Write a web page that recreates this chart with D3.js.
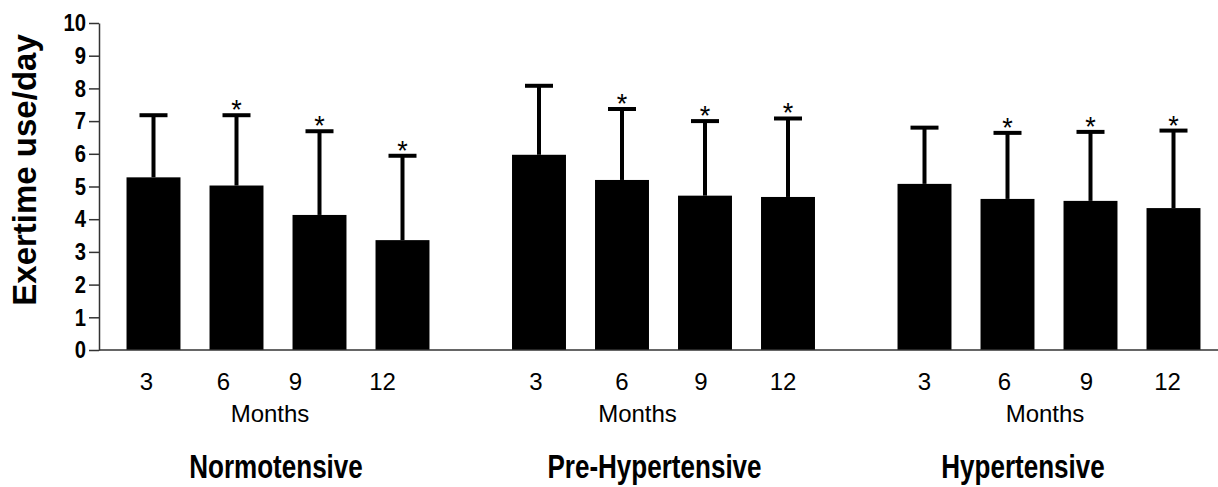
<!DOCTYPE html>
<html>
<head>
<meta charset="utf-8">
<script src="https://cdn.jsdelivr.net/npm/d3@7"></script>
<style>
  body { margin: 0; background: #fff; }
  text { font-family: Arial, "Liberation Sans", sans-serif; }
</style>
</head>
<body>
<svg id="chart"></svg>
<script>
// Data
const groups = ["Normotensive", "Pre-Hypertensive", "Hypertensive"];
const months = ["3", "6", "9", "12"];
const normoMean = [5.28, 5.03, 4.13, 3.36];
const normoSD = [1.90, 2.15, 2.56, 2.58];
const preMean = [5.97, 5.20, 4.72, 4.68];
const preSD = [2.11, 2.17, 2.28, 2.40];
const hyperMean = [5.08, 4.62, 4.56, 4.34];
const hyperSD = [1.72, 2.02, 2.11, 2.37];
const significant = [false, true, true, true];  // * marks vs baseline
const yTicks = [0, 1, 2, 3, 4, 5, 6, 7, 8, 9, 10];

const means = [normoMean, preMean, hyperMean];
const sds = [normoSD, preSD, hyperSD];

// Small label nudges so text sits where the original had it
const tickNudge = [[-7, -13, -24, -20], [-3, 0, -4, -5], [0, -3, -4, -6]];
const monthsNudge = [-8, -26, -4];
const titleNudge = [-2, -9, -26];

const width = 1218;
const height = 487;

const svg = d3.select("#chart")
    .attr("width", width)
    .attr("height", height);

// Scales
const y = d3.scaleLinear()
    .domain([0, 10])
    .range([350, 23]);

const xGroup = d3.scalePoint()
    .domain(groups)
    .range([278, 1049]);

const xMonth = d3.scaleBand()
    .domain(months)
    .range([-166, 166])
    .paddingInner(0.35)
    .paddingOuter(0.175);

// Flatten into one row per bar
const rows = [];
groups.forEach((g, gi) => {
  months.forEach((m, mi) => {
    rows.push({ group: g, gi: gi, month: m, mi: mi, mean: means[gi][mi], sd: sds[gi][mi], sig: significant[mi] });
  });
});

const cx = d => xGroup(d.group) + xMonth(d.month) + xMonth.bandwidth() / 2;

// Bars
svg.selectAll(".bar")
    .data(rows)
  .enter().append("rect")
    .attr("class", "bar")
    .attr("x", d => xGroup(d.group) + xMonth(d.month))
    .attr("y", d => y(d.mean))
    .attr("width", xMonth.bandwidth())
    .attr("height", d => y(0) - y(d.mean))
    .attr("fill", "#000");

// Error bars (upper only)
svg.selectAll(".err")
    .data(rows)
  .enter().append("line")
    .attr("class", "err")
    .attr("x1", cx)
    .attr("x2", cx)
    .attr("y1", d => y(d.mean))
    .attr("y2", d => y(d.mean + d.sd))
    .attr("stroke", "#000")
    .attr("stroke-width", 4);

svg.selectAll(".cap")
    .data(rows)
  .enter().append("line")
    .attr("class", "cap")
    .attr("x1", d => cx(d) - 14)
    .attr("x2", d => cx(d) + 14)
    .attr("y1", d => y(d.mean + d.sd))
    .attr("y2", d => y(d.mean + d.sd))
    .attr("stroke", "#000")
    .attr("stroke-width", 4);

// Asterisks
svg.selectAll(".star")
    .data(rows.filter(d => d.sig))
  .enter().append("text")
    .attr("class", "star")
    .attr("x", cx)
    .attr("y", d => y(d.mean + d.sd) + 4)
    .attr("text-anchor", "middle")
    .style("font-size", "27px")
    .text("*");

// Y axis
const yAxis = d3.axisLeft(y)
    .tickValues(yTicks)
    .tickSize(10)
    .tickSizeOuter(0)
    .tickPadding(4);

const gy = svg.append("g")
    .attr("transform", "translate(99,0)")
    .call(yAxis);

gy.select(".domain").attr("stroke", "#333").attr("stroke-width", 1.5);
gy.selectAll(".tick line").attr("stroke", "#333").attr("stroke-width", 1.5);
gy.selectAll(".tick text")
    .attr("fill", "#000")
    .attr("transform", "scale(0.92,1.1)")
    .style("font-size", "22px")
    .style("font-weight", "bold")
    .style("font-family", "Arial, 'Liberation Sans', sans-serif");

// X baseline
svg.append("line")
    .attr("x1", 99)
    .attr("x2", width)
    .attr("y1", y(0))
    .attr("y2", y(0))
    .attr("stroke", "#333")
    .attr("stroke-width", 1.5);

// Month tick labels
svg.selectAll(".mlabel")
    .data(rows)
  .enter().append("text")
    .attr("class", "mlabel")
    .attr("x", d => cx(d) + tickNudge[d.gi][d.mi])
    .attr("y", 390)
    .attr("text-anchor", "middle")
    .style("font-size", "24px")
    .text(d => d.month);

// "Months" under each group
svg.selectAll(".months")
    .data(groups)
  .enter().append("text")
    .attr("class", "months")
    .attr("x", (d, i) => xGroup(d) + monthsNudge[i])
    .attr("y", 422)
    .attr("text-anchor", "middle")
    .style("font-size", "24px")
    .text("Months");

// Group titles (condensed bold, like the original)
svg.selectAll(".title")
    .data(groups)
  .enter().append("text")
    .attr("class", "title")
    .attr("transform", (d, i) => `translate(${xGroup(d) + titleNudge[i]},478) scale(0.84,1.05)`)
    .attr("text-anchor", "middle")
    .style("font-size", "31px")
    .style("font-weight", "bold")
    .text(d => d);

// Y axis title
svg.append("text")
    .attr("transform", "translate(36,170) rotate(-90)")
    .attr("text-anchor", "middle")
    .style("font-size", "33px")
    .style("font-weight", "bold")
    .text("Exertime use/day");
</script>
</body>
</html>
